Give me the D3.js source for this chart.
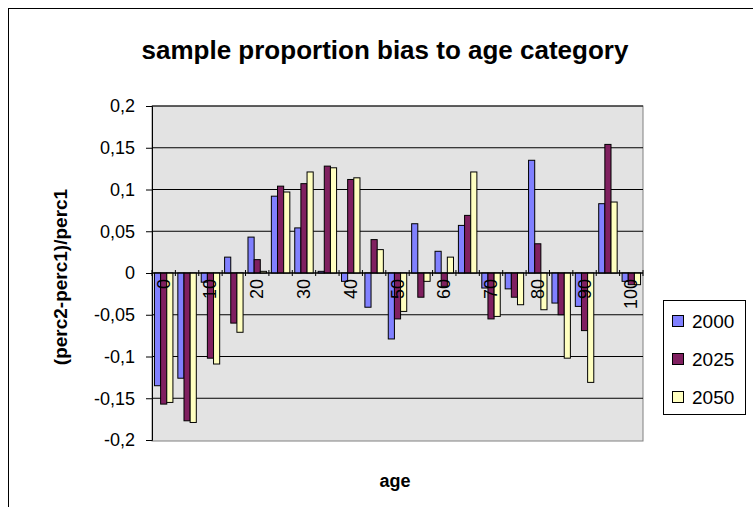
<!DOCTYPE html>
<html><head><meta charset="utf-8">
<script src="https://cdn.jsdelivr.net/npm/d3@7"></script>
<style>body{margin:0;background:#fff}text{font-family:Arial,"Liberation Sans",sans-serif}</style>
</head><body><svg id="c" width="753" height="507"></svg>
<script>
// age categories
var ages = d3.range(0, 101, 5);
var tickLabels = ["0","10","20","30","40","50","60","70","80","90","100"];
var seriesNames = ["2000", "2025", "2050"];
var colors = ["#8080FF", "#802060", "#FFFFC0"];
var v2000 = [-0.135,-0.126,-0.011,0.019,0.043,0.092,0.054,0.002,-0.010,-0.041,-0.079,0.059,0.026,0.057,-0.018,-0.019,0.135,-0.036,-0.040,0.083,-0.010];
var v2025 = [-0.157,-0.177,-0.102,-0.060,0.016,0.104,0.107,0.128,0.112,0.040,-0.055,-0.029,-0.016,0.069,-0.055,-0.029,0.035,-0.050,-0.069,0.154,-0.014];
var v2050 = [-0.155,-0.179,-0.109,-0.071,0.002,0.097,0.121,0.126,0.114,0.028,-0.046,-0.010,0.019,0.121,-0.052,-0.038,-0.044,-0.102,-0.131,0.085,-0.014];
var yTicks = [-0.2,-0.15,-0.1,-0.05,0,0.05,0.1,0.15,0.2];
var series = [v2000, v2025, v2050];

var svg = d3.select("#c");
svg.append("rect").attr("x",8.5).attr("y",8.5).attr("width",800).attr("height",520).attr("fill","#fff").attr("stroke","#000");

var x = d3.scaleBand().domain(ages).range([152, 643]);
var xs = d3.scaleBand().domain([0,1,2]).range([0, x.bandwidth()]).paddingOuter(0.4).paddingInner(0);
var y = d3.scaleLinear().domain([-0.2, 0.2]).range([440, 106]);

svg.append("rect").attr("x",152).attr("y",106).attr("width",491).attr("height",335).attr("fill","#E3E3E3").attr("stroke","#808080");
svg.selectAll(".grid").data(yTicks.slice(1)).enter().append("line")
  .attr("x1",152).attr("x2",643).attr("y1",d=>y(d)).attr("y2",d=>y(d)).attr("stroke","#000");

var fmt = d => (d === 0 ? "0" : String(d).replace(".", ","));
var yAxis = svg.append("g").attr("transform","translate(152,0)").call(d3.axisLeft(y).tickValues(yTicks).tickFormat(fmt).tickSize(6).tickPadding(11));
yAxis.selectAll("text").attr("font-size",18).attr("fill","#000");
yAxis.selectAll("line").attr("stroke","#000");
yAxis.select(".domain").attr("stroke","#000");

series.forEach(function(vals, s){
  svg.append("g").selectAll("rect").data(vals).enter().append("rect")
    .attr("x",(d,i)=>x(ages[i]) + xs(s))
    .attr("width",xs.bandwidth())
    .attr("y",d=>y(Math.max(0,d)))
    .attr("height",d=>Math.abs(y(d)-y(0)))
    .attr("fill",colors[s]).attr("stroke","#000").attr("stroke-width",1);
});

// x axis at zero
var xa = svg.append("g").attr("transform","translate(0," + y(0) + ")");
xa.append("line").attr("x1",152).attr("x2",643).attr("stroke","#000");
xa.selectAll(".tk").data(ages.concat([null])).enter().append("line")
  .attr("x1",(d,i)=>152 + i*x.step()).attr("x2",(d,i)=>152 + i*x.step())
  .attr("y1",-3).attr("y2",3).attr("stroke","#000");
xa.selectAll(".lbl").data(tickLabels).enter().append("text")
  .attr("transform",d=>"translate(" + (x(+d) + x.bandwidth()/2 + 6) + ",6) rotate(-90)")
  .attr("text-anchor","end").attr("font-size",18).text(d=>d);

svg.append("text").attr("x",385).attr("y",59).attr("text-anchor","middle").attr("font-size",26).attr("font-weight","bold").text("sample proportion bias to age category");
svg.append("text").attr("x",395).attr("y",487).attr("text-anchor","middle").attr("font-size",18).attr("font-weight","bold").text("age");
svg.append("text").attr("transform","translate(67,277) rotate(-90)").attr("text-anchor","middle").attr("font-size",19).attr("font-weight","bold").text("(perc2-perc1)/perc1");

// legend
var lg = svg.append("g");
lg.append("rect").attr("x",663.5).attr("y",300.5).attr("width",82).attr("height",114).attr("fill","#fff").attr("stroke","#000");
seriesNames.forEach(function(n,i){
  lg.append("rect").attr("x",672.5).attr("y",315.5 + i*38).attr("width",11).attr("height",11).attr("fill",colors[i]).attr("stroke","#000");
  lg.append("text").attr("x",692).attr("y",328 + i*38).attr("font-size",19).text(n);
});
</script></body></html>
